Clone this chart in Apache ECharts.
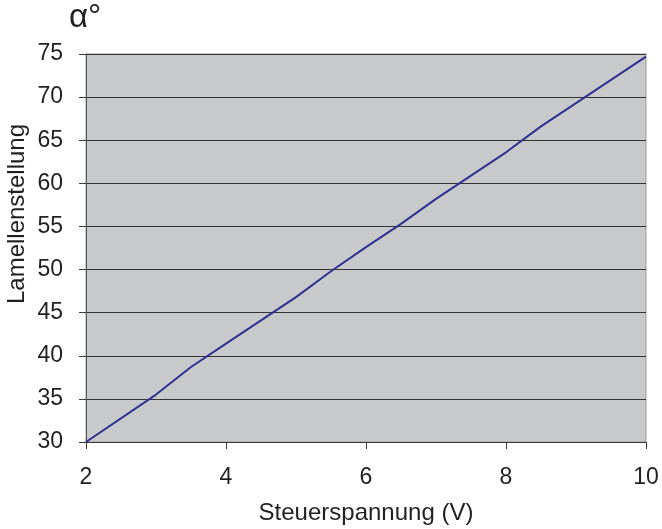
<!DOCTYPE html>
<html><head><meta charset="utf-8">
<script src="https://cdn.jsdelivr.net/npm/echarts@6/dist/echarts.min.js"></script>
<style>html,body{margin:0;padding:0;background:#fff}#c{width:662px;height:529px}</style>
</head><body><div id="c"></div>
<script>
const voltage = [2, 3, 3.5, 4, 4.5, 5, 5.5, 6, 6.5, 7, 7.5, 8, 8.5, 9, 9.5, 10];
const angle = [30, 35.5, 38.7, 41.4, 44.1, 46.8, 49.8, 52.6, 55.3, 58.2, 60.9, 63.6, 66.6, 69.3, 72.0, 74.7];
const xTicks = [2, 4, 6, 8, 10];
const yTicks = [30, 35, 40, 45, 50, 55, 60, 65, 70, 75];
const xName = 'Steuerspannung (V)';
const yName = 'Lamellenstellung';
const unitLabel = 'α°';

const font = 'Liberation Sans, Arial, Helvetica, sans-serif';
const chart = echarts.init(document.getElementById('c'), null, {renderer: 'canvas'});
chart.setOption({
  animation: false,
  grid: {left: 86, right: 16, top: 54, bottom: 87, outerBoundsMode: 'none', containLabel: false, show: true, backgroundColor: '#c8c9cb', borderColor: '#9a9a9a', borderWidth: 1},
  xAxis: {
    type: 'value', min: xTicks[0], max: xTicks[xTicks.length - 1], interval: 2,
    name: xName, nameLocation: 'middle', nameGap: 59,
    nameTextStyle: {fontFamily: font, fontSize: 24, color: '#231f20'},
    axisLine: {show: true, lineStyle: {color: '#3a3a3a', width: 1}},
    axisTick: {show: true, length: 7, lineStyle: {color: '#3a3a3a'}},
    axisLabel: {fontFamily: font, fontSize: 23, color: '#231f20', margin: 24},
    splitLine: {show: false}
  },
  yAxis: {
    type: 'value', min: yTicks[0], max: yTicks[yTicks.length - 1], interval: 5,
    axisLine: {show: true, lineStyle: {color: '#555', width: 1}},
    axisTick: {show: true, length: 7, lineStyle: {color: '#3a3a3a'}},
    axisLabel: {fontFamily: font, fontSize: 23, color: '#231f20', margin: 23},
    splitLine: {show: true, lineStyle: {color: '#333', width: 1}}
  },
  graphic: [
    {type: 'text', left: 69, top: 1, style: {text: unitLabel, fontFamily: font, fontSize: 33, fill: '#231f20'}},
    {type: 'text', x: 5, y: 214, rotation: Math.PI / 2, style: {text: yName, fontFamily: font, fontSize: 24, fill: '#231f20', align: 'center', verticalAlign: 'top'}}
  ],
  series: [{
    type: 'line', data: voltage.map((v, i) => [v, angle[i]]), showSymbol: false,
    lineStyle: {color: '#2e3192', width: 2}
  }]
});
</script></body></html>
